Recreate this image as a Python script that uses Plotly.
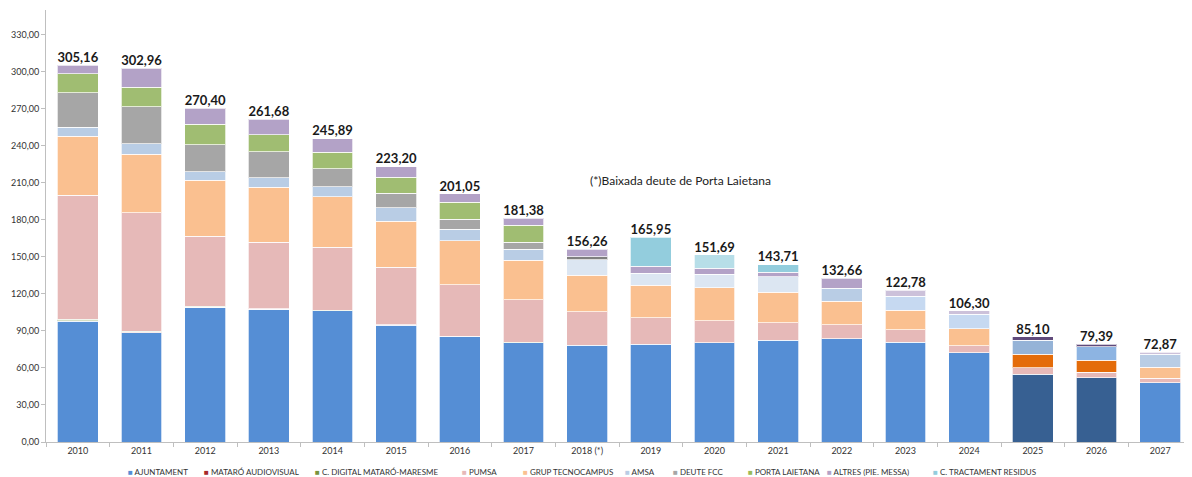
import plotly.graph_objects as go

years = ["2010", "2011", "2012", "2013", "2014", "2015", "2016", "2017", "2018 (*)",
         "2019", "2020", "2021", "2022", "2023", "2024", "2025", "2026", "2027"]

ajuntament = [98.0, 88.5, 109.0, 107.6, 106.3, 94.7, 85.4, 80.6, 78.3,
              79.2, 80.5, 82.4, 83.5, 80.8, 72.4, 55.0, 52.1, 48.1]
mataro_audiovisual = [0.3, 0.3, 0.2, 0.1, 0.1, 0.1, 0.1, None, None,
                      None, None, None, None, None, None, None, None, None]
c_digital = [1.0, 0.9, 0.6, 0.4, 0.4, 0.3, 0.2, 0.2, None,
             None, None, None, None, None, None, None, None, None]
pumsa = [100.5, 96.1, 56.8, 53.9, 50.9, 46.3, 41.9, 34.6, 27.1,
         21.6, 17.9, 14.4, 11.3, 10.0, 5.7, 5.2, 4.3, 3.7]
grup_tecnocampus = [48.0, 47.4, 45.5, 44.4, 41.1, 37.6, 35.4, 32.0, 29.8,
                    26.0, 26.5, 24.6, 19.3, 16.0, 13.5, 11.1, 9.8, 8.9]
amsa = [7.3, 8.3, 6.9, 7.5, 8.1, 10.8, 9.3, 8.6, 12.4,
        9.8, 11.1, 12.4, 10.5, 11.3, 11.9, 11.1, 10.8, 10.3]
deute_fcc = [27.9, 30.3, 21.7, 21.4, 14.3, 11.7, 8.3, 6.0, 2.4,
             None, None, None, None, None, None, None, None, None]
porta_laietana = [15.4, 15.8, 16.8, 13.5, 13.6, 13.2, 13.8, 13.5, None,
                  None, None, None, None, None, None, None, None, None]
altres = [6.76, 15.36, 12.9, 12.88, 11.09, 8.5, 6.65, 5.88, 6.26,
          5.9, 4.6, 3.8, 8.06, 4.68, 2.8, 2.7, 2.39, 1.87]
c_tractament = [None, None, None, None, None, None, None, None, None,
                23.45, 11.09, 6.11, None, None, None, None, None, None]

totals = [305.16, 302.96, 270.40, 261.68, 245.89, 223.20, 201.05, 181.38, 156.26,
          165.95, 151.69, 143.71, 132.66, 122.78, 106.30, 85.10, 79.39, 72.87]

y_ticks = [0, 30, 60, 90, 120, 150, 180, 210, 240, 270, 300, 330]

note_text = "(*)Baixada deute de Porta Laietana"

# colours (per-bar where the original uses variants)
BLUE, DBLUE = "#558ed5", "#376092"
ORANGE, DORANGE = "#fac090", "#e46c0a"
AMSA_C = "#b9cde5"
AMSA_L = "#dce6f2"
AMSA_M = "#c6d9f1"
AMSA_D = "#95b3d7"
PURP, PURP_L, PURP_D = "#b3a2c7", "#ccc1da", "#604a7b"

n = len(years)
aj_colors = [BLUE] * n
aj_colors[15] = DBLUE
aj_colors[16] = DBLUE
gt_colors = [ORANGE] * n
gt_colors[15] = DORANGE
gt_colors[16] = DORANGE
amsa_colors = [AMSA_C] * 8 + [AMSA_L, AMSA_L, AMSA_L, AMSA_L, AMSA_C, AMSA_M, AMSA_M,
                              AMSA_D, "#8db4e2", AMSA_C]
fcc_colors = ["#a6a6a6"] * 8 + ["#7f7f7f"] + ["#a6a6a6"] * 9
altres_colors = [PURP] * 13 + [PURP_L, PURP_L, PURP_D, PURP_D, PURP_L]
ctr_colors = ["#93cddd"] * 9 + ["#93cddd", "#b7dee8", "#93cddd"] + ["#93cddd"] * 6

series = [
    ("AJUNTAMENT", ajuntament, aj_colors, BLUE),
    ("MATARÓ AUDIOVISUAL", mataro_audiovisual, "#a52a2a", "#a52a2a"),
    ("C. DIGITAL MATARÓ-MARESME", c_digital, "#77933c", "#77933c"),
    ("PUMSA", pumsa, "#e6b9b8", "#e6b9b8"),
    ("GRUP TECNOCAMPUS", grup_tecnocampus, gt_colors, ORANGE),
    ("AMSA", amsa, amsa_colors, AMSA_C),
    ("DEUTE FCC", deute_fcc, fcc_colors, "#a6a6a6"),
    ("PORTA LAIETANA", porta_laietana, "#a0bd72", "#9bbb59"),
    ("ALTRES (PIE. MESSA)", altres, altres_colors, PURP),
    ("C. TRACTAMENT RESIDUS", c_tractament, ctr_colors, "#93cddd"),
]

# layout in screen pixels (page body has an 8px default margin)
OFF = 8
W, H = 1192 - OFF, 477 - OFF
PLOT_L, PLOT_R, PLOT_T, PLOT_B = 46, 1192, 10, 442   # screen px
ML, MR = PLOT_L - OFF, (1192 - PLOT_R)
MT, MB = PLOT_T - OFF, (477 - PLOT_B)
PW, PH = W - ML - MR, H - MT - MB

# left edge (screen px) of each legend entry, laid out in one row under the axis
legend_px = [126, 202, 313, 460, 521, 623, 671, 746, 825, 931]
LEGEND_Y = 472

FONT = "Lato, 'Liberation Sans', sans-serif"

fig = go.Figure()
for name, vals, col, _ in series:
    fig.add_trace(go.Bar(
        x=years, y=vals, name=name,
        marker=dict(color=col, line=dict(color="rgba(255,255,255,0.7)", width=1)),
        hoverinfo="skip",
    ))

fig.add_trace(go.Scatter(
    x=years, y=totals, mode="text",
    text=[f"{v:.2f}".replace(".", ",") for v in totals],
    textposition="top center",
    textfont=dict(family=FONT, size=13, color="#1a1a1a", weight="bold"),
    showlegend=False, hoverinfo="skip",
))

fig.add_annotation(
    text=note_text, xref="paper", yref="y", x=(680 - PLOT_L) / PW, y=211.5,
    showarrow=False, font=dict(family=FONT, size=12, color="#222222"),
)

# legend row
for (name, _, _, lcol), px in zip(series, legend_px):
    fig.add_annotation(
        text=f"<span style='color:{lcol}; font-size:8px'>■</span> {name}",
        xref="paper", yref="paper",
        x=(px - PLOT_L) / PW, xanchor="left",
        y=-(LEGEND_Y - PLOT_B) / PH, yanchor="middle",
        showarrow=False, font=dict(family=FONT, size=8, color="#333333"),
    )

fig.update_layout(
    barmode="stack",
    bargap=0.36,
    width=W, height=H,
    margin=dict(l=ML, r=MR, t=MT, b=MB, autoexpand=False),
    paper_bgcolor="white", plot_bgcolor="white",
    separators=",.",
    font=dict(family=FONT, size=9, color="#333333"),
    showlegend=False,
)
fig.update_xaxes(
    type="category", range=[-0.5, n - 0.5],
    showline=True, linecolor="#bfbfbf", linewidth=1,
    ticks="outside", ticklen=4, tickcolor="#bfbfbf", tickson="boundaries",
    tickfont=dict(family=FONT, size=9, color="#333333"),
    showgrid=False,
)
fig.update_yaxes(
    range=[0, 350], tickvals=y_ticks, tickformat=".2f",
    showline=True, linecolor="#bfbfbf", linewidth=1,
    ticks="outside", ticklen=4, tickcolor="#bfbfbf",
    tickfont=dict(family=FONT, size=9, color="#333333"),
    showgrid=False, zeroline=False,
)

fig.write_html("out.html")
